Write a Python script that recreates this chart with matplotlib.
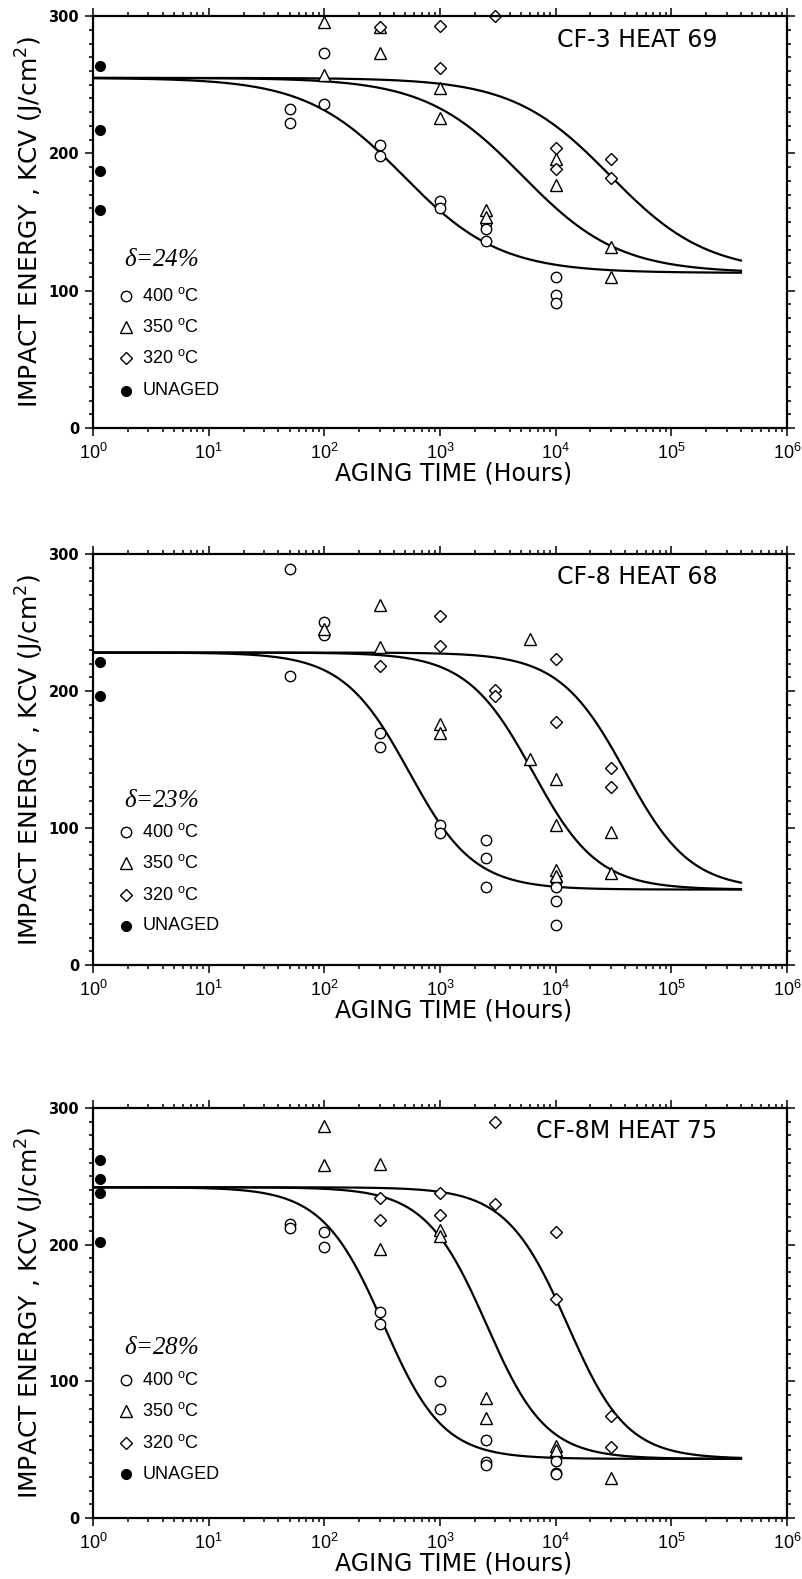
""" Charpy impact energy vs aging time for three cast stainless steel heats """

import numpy as np
import matplotlib.pyplot as plt
from matplotlib.ticker import FixedLocator, MultipleLocator, LogLocator, NullFormatter

plt.rcParams['font.family'] = ['DejaVu Sans']
plt.rcParams['mathtext.default'] = 'regular'

#############
# Data      #
#############

# CF-3 HEAT 69, delta = 24%
p1_t400 = [50, 50, 100, 100, 300, 300, 1000, 1000, 2500, 2500, 2500, 10000, 10000, 10000]
p1_k400 = [232, 222, 273, 236, 206, 198, 165, 160, 149, 145, 136, 110, 97, 91]
p1_t350 = [100, 100, 300, 300, 1000, 1000, 2500, 2500, 10000, 10000, 30000, 30000]
p1_k350 = [296, 257, 292, 273, 248, 226, 159, 154, 196, 177, 132, 110]
p1_t320 = [300, 1000, 1000, 3000, 10000, 10000, 30000, 30000]
p1_k320 = [292, 293, 262, 300, 204, 189, 196, 182]
p1_unaged = [264, 217, 187, 159]

# CF-8 HEAT 68, delta = 23%
p2_t400 = [50, 50, 100, 100, 300, 300, 1000, 1000, 2500, 2500, 2500, 10000, 10000, 10000, 10000]
p2_k400 = [289, 211, 250, 241, 169, 159, 102, 96, 91, 78, 57, 61, 57, 47, 29]
p2_t350 = [100, 300, 300, 1000, 1000, 6000, 6000, 10000, 10000, 10000, 10000, 30000, 30000]
p2_k350 = [245, 263, 232, 176, 169, 238, 150, 136, 102, 69, 65, 97, 67]
p2_t320 = [300, 1000, 1000, 3000, 3000, 10000, 10000, 30000, 30000]
p2_k320 = [218, 255, 233, 201, 196, 223, 177, 144, 130]
p2_unaged = [221, 196]

# CF-8M HEAT 75, delta = 28%
p3_t400 = [50, 50, 100, 100, 300, 300, 1000, 1000, 2500, 2500, 2500, 10000, 10000, 10000]
p3_k400 = [215, 212, 209, 198, 151, 142, 100, 80, 57, 41, 39, 42, 33, 32]
p3_t350 = [100, 100, 300, 300, 1000, 1000, 2500, 2500, 10000, 10000, 30000]
p3_k350 = [287, 258, 259, 197, 211, 206, 88, 73, 53, 50, 29]
p3_t320 = [300, 300, 1000, 1000, 3000, 3000, 10000, 10000, 30000, 30000]
p3_k320 = [234, 218, 238, 222, 290, 230, 209, 160, 75, 52]
p3_unaged = [262, 248, 238, 202]

# fitted aging curves: unaged KCV, saturation KCV, log10 midpoints (400/350/320 C), shape
p1_fit = dict(k0=255, ksat=113, theta=[2.85, 3.88, 4.64], alpha=0.85)
p2_fit = dict(k0=228, ksat=55, theta=[2.93, 4.0, 4.8], alpha=0.59)
p3_fit = dict(k0=242, ksat=43.3, theta=[2.73, 3.62, 4.32], alpha=0.55)

titles = ['CF-3 HEAT 69', 'CF-8 HEAT 68', 'CF-8M HEAT 75']
deltas = ['24', '23', '28']
legend_temps = ['400', '350', '320']
y_ticks = [0, 100, 200, 300]
unaged_time = 1.15
curve_end = 4e5

panels = [
    (p1_t400, p1_k400, p1_t350, p1_k350, p1_t320, p1_k320, p1_unaged, p1_fit),
    (p2_t400, p2_k400, p2_t350, p2_k350, p2_t320, p2_k320, p2_unaged, p2_fit),
    (p3_t400, p3_k400, p3_t350, p3_k350, p3_t320, p3_k320, p3_unaged, p3_fit),
]


def kcv_curve(t, k0, ksat, theta, alpha):
    beta = (np.log10(k0) - np.log10(ksat)) / 2
    return 10 ** (np.log10(ksat) + beta * (1 - np.tanh((np.log10(t) - theta) / alpha)))


##################
# Visualize Data #
##################

fig = plt.figure(figsize=(8.02, 15.79), dpi=100)
boxes = [(0.116, 0.7289, 0.8653, 0.2609),
         (0.116, 0.3889, 0.8653, 0.2603),
         (0.116, 0.0386, 0.8653, 0.2597)]
legend_y = [[0.408, 0.320, 0.245, 0.170, 0.090],
            [0.399, 0.324, 0.248, 0.170, 0.095],
            [0.415, 0.337, 0.261, 0.183, 0.107]]

open_style = dict(linestyle='none', mfc='white', mec='black', mew=1.0, clip_on=False)
styles = [dict(marker='o', ms=7.5), dict(marker='^', ms=8), dict(marker='D', ms=6)]

for i, (panel, box) in enumerate(zip(panels, boxes)):
    t400, k400, t350, k350, t320, k320, unaged, fit = panel
    ax = fig.add_axes(box)

    t = np.logspace(0, np.log10(curve_end), 400)
    for theta in fit['theta']:
        ax.plot(t, kcv_curve(t, fit['k0'], fit['ksat'], theta, fit['alpha']),
                color='black', lw=1.6)

    ax.plot(t400, k400, **styles[0], **open_style)
    ax.plot(t350, k350, **styles[1], **open_style)
    ax.plot(t320, k320, **styles[2], **open_style)
    ax.plot([unaged_time] * len(unaged), unaged, 'o', color='black', ms=7, clip_on=False)

    ax.set_xscale('log')
    ax.set_xlim(1, 1e6)
    ax.set_ylim(0, 300)

    # ticks
    ax.xaxis.set_major_locator(FixedLocator([10.0 ** k for k in range(7)]))
    ax.xaxis.set_minor_locator(LogLocator(base=10, subs=np.arange(2, 10), numticks=20))
    ax.xaxis.set_minor_formatter(NullFormatter())
    ax.set_xticklabels(['$\\mathregular{10^{%d}}$' % k for k in range(7)],
                       family='Liberation Sans', fontsize=13)
    ax.yaxis.set_major_locator(FixedLocator(y_ticks))
    ax.yaxis.set_minor_locator(MultipleLocator(10))
    ax.set_yticklabels([str(v) for v in y_ticks], fontweight='bold', fontsize=10.5)
    ax.tick_params(which='both', direction='out', top=True, right=True, width=1.1)
    ax.tick_params(which='major', length=6)
    ax.tick_params(which='minor', length=3)
    ax.tick_params(axis='x', which='major', pad=5)
    ax.tick_params(axis='y', which='major', pad=4)
    for s in ax.spines.values():
        s.set_linewidth(1.6)

    ax.set_xlabel('AGING TIME (Hours)', fontsize=17, va='center')
    ax.xaxis.set_label_coords(0.52, -0.11)
    ax.set_ylabel('IMPACT ENERGY , KCV (J/cm$^2$)', fontsize=18, va='center')
    ax.yaxis.set_label_coords(-0.091, 0.5)

    ax.text(0.90, 0.943, titles[i], transform=ax.transAxes, ha='right', va='center', fontsize=17)

    # hand drawn legend block
    ly = legend_y[i]
    ax.text(0.045, ly[0], '$\\delta$=%s%%' % deltas[i], transform=ax.transAxes,
            family='Liberation Serif', style='italic', fontsize=18, va='center')
    for j in range(3):
        ax.plot([0.048], [ly[j + 1]], transform=ax.transAxes, **styles[j],
                linestyle='none', mfc='white', mec='black', mew=1.0)
        ax.text(0.071, ly[j + 1], legend_temps[j] + ' $^{o}$C', transform=ax.transAxes,
                family='Liberation Sans', fontsize=13, va='center')
    ax.plot([0.048], [ly[4]], 'o', color='black', ms=7, transform=ax.transAxes)
    ax.text(0.071, ly[4], 'UNAGED', transform=ax.transAxes,
            family='Liberation Sans', fontsize=13, va='center')

plt.savefig('out.png', dpi=100)
